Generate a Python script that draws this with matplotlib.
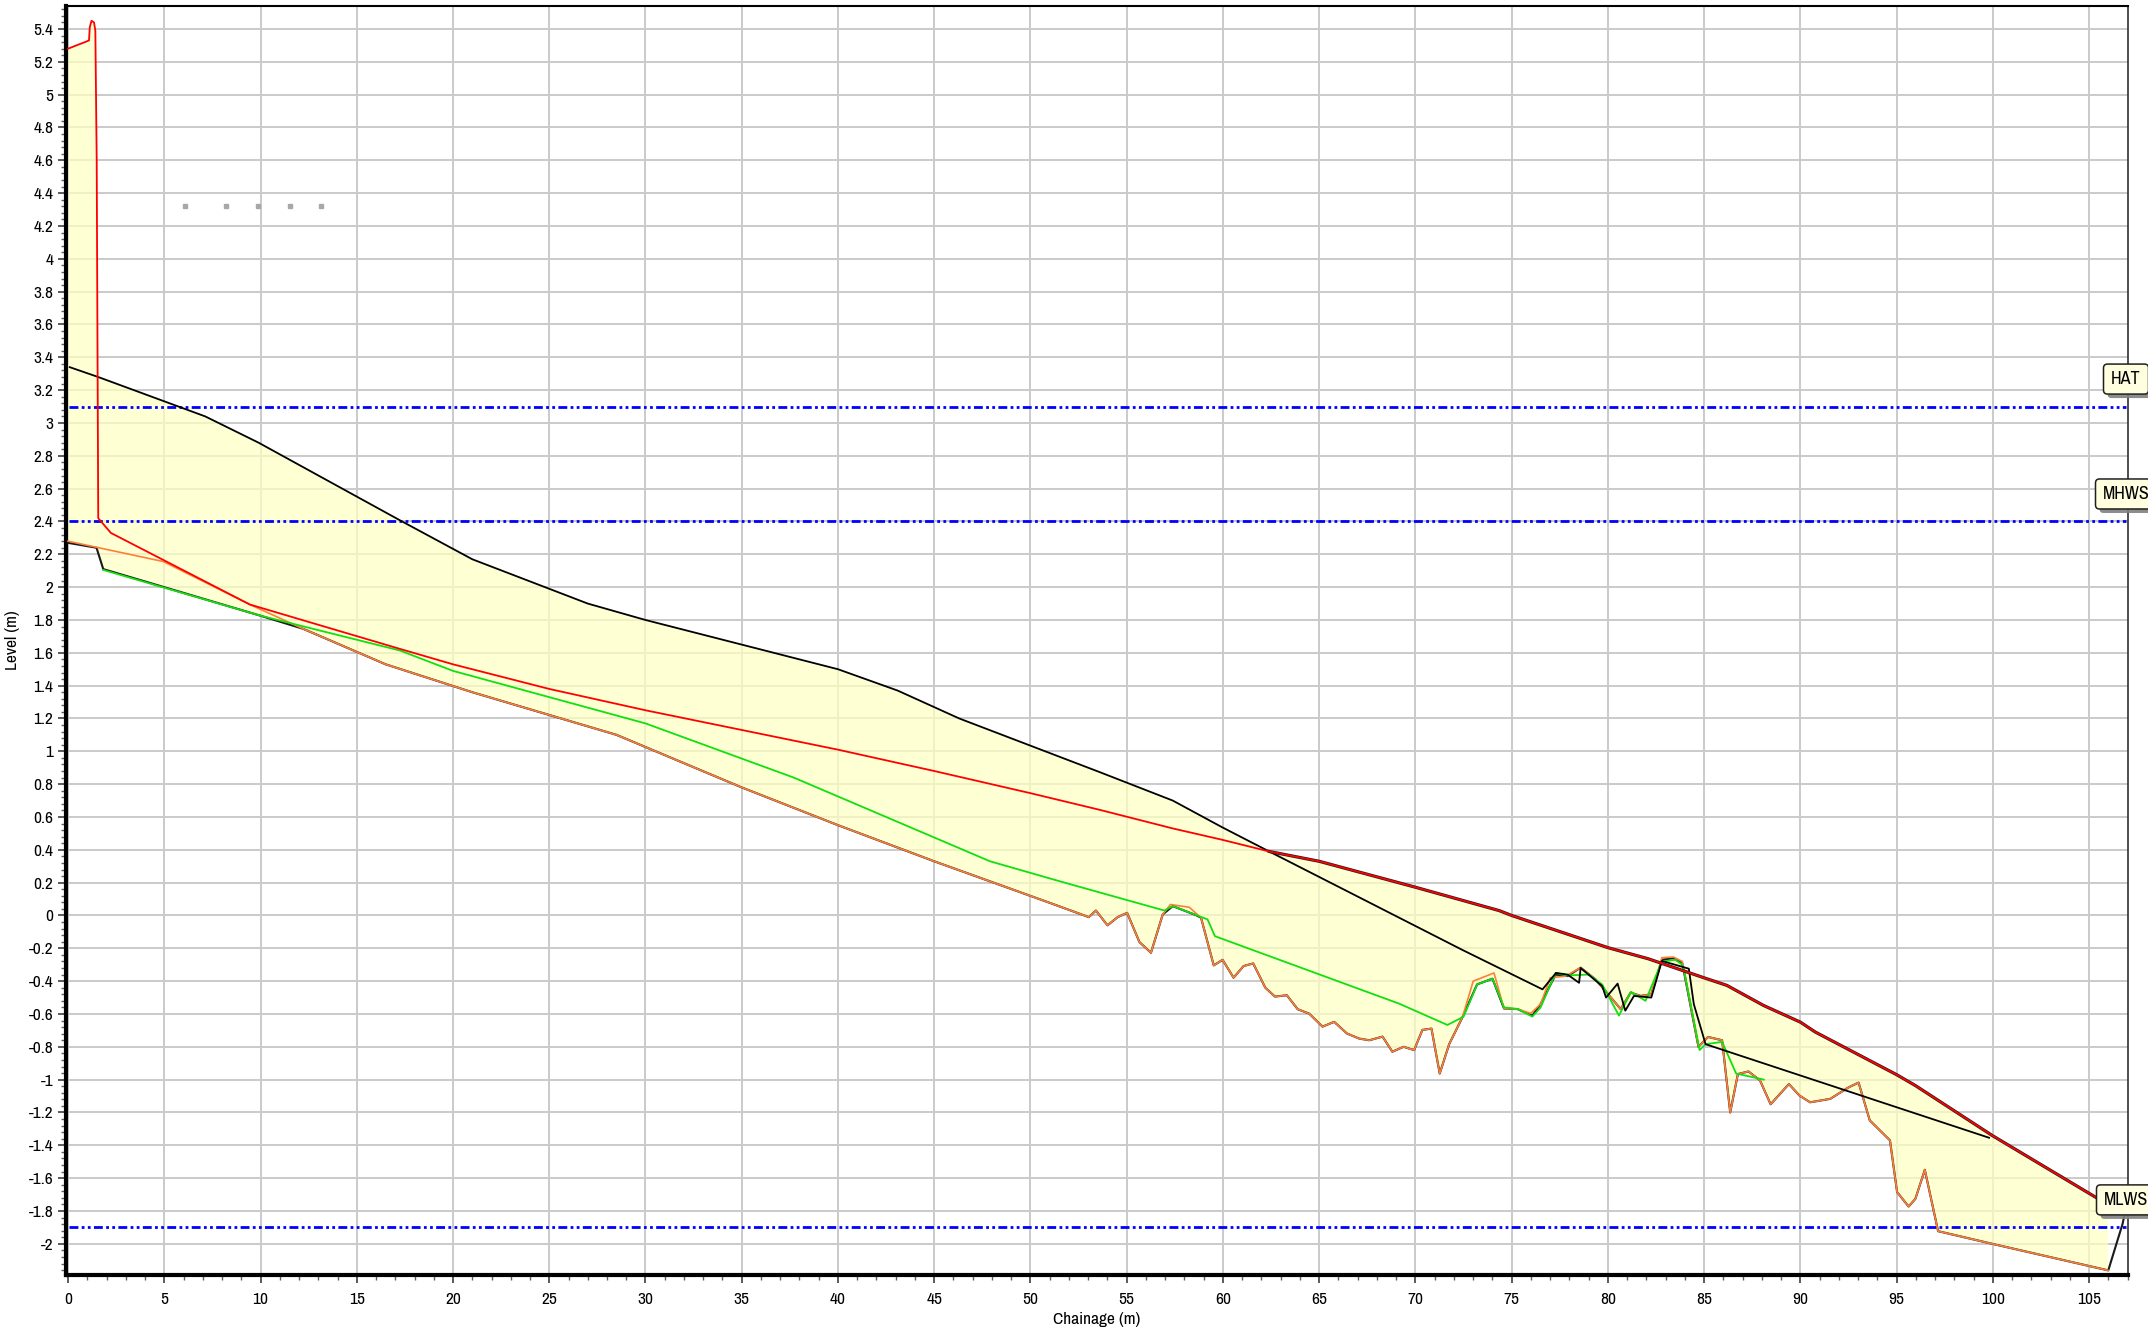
import numpy as np
import matplotlib
matplotlib.use('Agg')
import matplotlib.pyplot as plt
from matplotlib.ticker import MultipleLocator, FuncFormatter
from matplotlib.patches import FancyBboxPatch
from matplotlib.transforms import IdentityTransform

plt.rcParams['font.family'] = ['Archivo Narrow', 'Liberation Sans', 'DejaVu Sans']

# ---------------- data ----------------
red_x = [0.0, 1.09, 1.13, 1.22, 1.35, 1.42, 1.49, 1.57, 2.23, 9.45, 17.24, 20, 25, 30, 35, 40, 45, 50,
         53.58, 57.4, 60, 62.4, 65, 70, 74.34, 75, 80, 82.1, 85, 86.18, 88.08, 90, 90.77, 95, 95.97,
         99.96, 105.33, 106.7]
red_y = [5.28, 5.33, 5.41, 5.45, 5.44, 5.39, 4.6, 2.42, 2.33, 1.894, 1.624, 1.53, 1.38, 1.25, 1.13, 1.01,
         0.88, 0.745, 0.644, 0.53, 0.46, 0.39, 0.33, 0.172, 0.03, 0.0, -0.196, -0.264, -0.38, -0.426,
         -0.548, -0.65, -0.71, -0.97, -1.036, -1.34, -1.716, -1.80]

black_x = [0.09, 1.57, 7.13, 9.9, 17.2, 21, 27, 30, 40, 43.1, 46.3, 53.58, 57.39, 59.98, 62.4, 72.44,
           76.6, 77.3, 77.9, 78.5, 78.58, 79.7, 79.9, 80.5, 80.9, 81.35, 82.25, 82.8, 84.2, 84.46,
           85.07, 99.8]
black_y = [3.34, 3.28, 3.04, 2.88, 2.41, 2.17, 1.90, 1.80, 1.50, 1.37, 1.20, 0.874, 0.70, 0.536, 0.39,
           -0.21, -0.45, -0.35, -0.36, -0.41, -0.32, -0.43, -0.50, -0.415, -0.58, -0.49, -0.50, -0.277,
           -0.324, -0.54, -0.784, -1.354]

green_x = [1.83, 9.97, 17.24, 20, 25, 30, 37.7, 47.9, 51.5, 56.96, 57.39, 59.2, 59.58, 69.15, 71.66,
           72.5, 73.2, 74.0, 74.6, 75.3, 76.07, 76.5, 77.28, 77.9, 79.0, 79.7, 80.57, 81.2, 81.95,
           82.8, 83.5, 83.86, 84.0, 84.76, 85.07, 85.93, 86.66, 88.1]
green_y = [2.105, 1.827, 1.614, 1.49, 1.33, 1.17, 0.84, 0.33, 0.209, 0.03, 0.057, -0.024, -0.126,
           -0.537, -0.667, -0.616, -0.42, -0.385, -0.56, -0.57, -0.616, -0.56, -0.35, -0.365, -0.36,
           -0.42, -0.61, -0.465, -0.52, -0.28, -0.27, -0.30, -0.36, -0.82, -0.784, -0.77, -0.963, -1.0]

orange_x = [0.0, 4.95, 9.45, 12.22, 16.5, 21, 28.5, 35, 40, 45, 51, 53.03, 53.4, 54.0, 54.53, 55.02,
            55.66, 56.26, 56.87, 57.27, 58.25, 58.86, 59.52, 59.98, 60.55, 61.07, 61.57, 62.2, 62.7,
            63.32, 63.88, 64.48, 65.17, 65.78, 66.44, 67.08, 67.6, 68.29, 68.8, 69.38, 69.93, 70.36,
            70.83, 71.26, 71.75, 72.44, 73.0, 74.08, 74.6, 75.3, 75.99, 76.5, 77.0, 77.8, 78.58,
            79.36, 80.66, 81.18, 81.7, 82.25, 82.8, 83.4, 83.86, 84.7, 85.2, 85.93, 86.35, 86.75,
            87.3, 87.9, 88.45, 89.4, 89.95, 90.5, 91.55, 92.5, 93.02, 93.6, 94.65, 95.02, 95.62,
            95.97, 96.46, 97.15, 99.96, 105.99]
orange_y = [2.28, 2.156, 1.894, 1.746, 1.53, 1.36, 1.10, 0.78, 0.55, 0.33, 0.077, -0.01, 0.03, -0.06,
            -0.01, 0.016, -0.162, -0.227, 0.006, 0.067, 0.05, -0.014, -0.304, -0.27, -0.379, -0.308,
            -0.292, -0.44, -0.494, -0.486, -0.571, -0.598, -0.677, -0.648, -0.719, -0.75, -0.76,
            -0.738, -0.83, -0.80, -0.82, -0.697, -0.689, -0.963, -0.784, -0.62, -0.40, -0.35, -0.567,
            -0.57, -0.596, -0.54, -0.38, -0.369, -0.318, -0.39, -0.57, -0.47, -0.49, -0.48, -0.257,
            -0.253, -0.28, -0.80, -0.74, -0.76, -1.2, -0.966, -0.95, -1.005, -1.15, -1.027, -1.097,
            -1.138, -1.117, -1.047, -1.018, -1.248, -1.37, -1.685, -1.773, -1.726, -1.549, -1.923,
            -2.0, -2.162]

dark_x = [0.0, 1.48, 1.83, 9.97, 12.22, 16.5, 21, 28.5, 35, 40, 45, 51, 53.03, 53.4, 54.0, 54.53,
          55.02, 55.66, 56.26, 56.87, 57.39, 58.6, 58.86, 59.52, 59.98, 60.55, 61.07, 61.57, 62.2,
          62.7, 63.32, 63.88, 64.48, 65.17, 65.78, 66.44, 67.08, 67.6, 68.29, 68.8, 69.38, 69.93,
          70.36, 70.83, 71.26, 71.75, 72.44, 73.2, 74.0, 74.6, 75.3, 76.07, 76.5, 77.28, 77.9,
          78.58, 79.36, 80.66, 81.18, 81.7, 82.25, 82.8, 83.4, 83.86, 84.7, 85.2, 85.93, 86.35,
          86.75, 87.3, 87.9, 88.45, 89.4, 89.95, 90.5, 91.55, 92.5, 93.02, 93.6, 94.65, 95.02,
          95.62, 95.97, 96.46, 97.15, 99.96, 105.99, 106.73, 106.95]
dark_y = [2.27, 2.24, 2.11, 1.827, 1.746, 1.53, 1.36, 1.10, 0.78, 0.55, 0.33, 0.077, -0.01, 0.03,
          -0.06, -0.01, 0.016, -0.162, -0.227, 0.006, 0.057, 0.002, -0.014, -0.304, -0.27, -0.379,
          -0.308, -0.292, -0.44, -0.494, -0.486, -0.571, -0.598, -0.677, -0.648, -0.719, -0.75,
          -0.76, -0.738, -0.83, -0.80, -0.82, -0.697, -0.689, -0.963, -0.784, -0.62, -0.42, -0.385,
          -0.567, -0.57, -0.61, -0.54, -0.36, -0.369, -0.318, -0.39, -0.57, -0.47, -0.49, -0.48,
          -0.27, -0.26, -0.29, -0.80, -0.74, -0.76, -1.2, -0.966, -0.95, -1.005, -1.15, -1.027,
          -1.097, -1.138, -1.117, -1.047, -1.018, -1.248, -1.37, -1.685, -1.773, -1.726, -1.549,
          -1.923, -2.0, -2.162, -1.88, -1.76]

tide_names = ['HAT', 'MHWS', 'MLWS']
tide_levels = [3.1, 2.4, -1.9]

marker_x = [6.08, 8.21, 9.86, 11.51, 13.16]
marker_y = [4.32, 4.32, 4.32, 4.32, 4.32]

# label-box styling (pixels)
box_widths = [45, 61, 59]
box_height = 30
box_gap = 12.5
box_center_px = 2126

# ---------------- figure ----------------
fig = plt.figure(figsize=(21.48, 13.31), dpi=100)
ax = fig.add_axes([0.03059, 0.04207, 0.95996, 0.95342])
ax.set_xlim(-0.12, 107.0)
ax.set_ylim(-2.19, 5.54)

ax.set_axisbelow(True)
ax.grid(which='major', color='#CACACA', lw=1.4)

# fill between envelopes of all profiles
profiles = [(red_x, red_y), (black_x, black_y), (green_x, green_y), (orange_x, orange_y), (dark_x, dark_y)]
xg = np.linspace(0.0, orange_x[-1], 6000)
stack = np.array([np.interp(xg, px, py, left=np.nan, right=np.nan) for px, py in profiles])
upper = np.nanmax(stack, axis=0)
lower = np.nanmin(stack, axis=0)
ax.fill_between(xg, lower, upper, facecolor='#FFFFC4', edgecolor='none', alpha=0.72, zorder=1)

# tide lines
ax.hlines(tide_levels, 0.05, 106.9, colors='#0000FF', lw=2.0,
          linestyles=[(0, (3.2, 1.2, 1.0, 1.2, 1.0, 1.2))], zorder=2)

# profiles
ax.plot(dark_x, dark_y, color='#1a1a1a', lw=1.5, zorder=3)
ax.plot(orange_x, orange_y, color='#FF7F3A', lw=1.2, zorder=4)
ax.plot(green_x, green_y, color='#10E010', lw=1.3, zorder=5)
ax.plot(black_x, black_y, color='black', lw=1.3, zorder=6)
rx = np.array(red_x); ry = np.array(red_y)
m = rx >= 62.4
ax.plot(rx[m], ry[m], color='#202020', lw=2.3, zorder=7)
ax.plot(red_x, red_y, color='#FF0000', lw=1.3, zorder=8)

ax.plot(marker_x, marker_y, linestyle='none', marker='s', ms=2.5, color='#A8A8A8', zorder=3)

# axes styling
ax.xaxis.set_major_locator(MultipleLocator(5))
ax.xaxis.set_minor_locator(MultipleLocator(1))
ax.yaxis.set_major_locator(MultipleLocator(0.2))
ax.yaxis.set_minor_locator(MultipleLocator(0.04))

def fmt(v, pos):
    v = round(v, 2)
    if abs(v) < 1e-9:
        return '0'
    return f'{v:g}'

ax.xaxis.set_major_formatter(FuncFormatter(fmt))
ax.yaxis.set_major_formatter(FuncFormatter(fmt))
ax.tick_params(axis='both', which='major', labelsize=12.5, direction='out', length=6, width=1.2,
               color='#404040', pad=3)
ax.tick_params(axis='both', which='minor', direction='out', length=3.5, width=1.0, color='#606060')
ax.tick_params(axis='x', which='major', pad=6)

for s in ['left', 'bottom']:
    ax.spines[s].set_linewidth(3)
    ax.spines[s].set_color('black')
ax.spines['top'].set_linewidth(1.5)
ax.spines['right'].set_linewidth(1.2)
ax.spines['right'].set_color('#303030')

ax.set_xlabel('Chainage (m)', fontsize=12.5, labelpad=4)
ax.set_ylabel('Level (m)', fontsize=12.5, labelpad=6)

# tide label boxes (pixel positions tied to the data level of each line)
ident = IdentityTransform()
for name, lvl, bw in zip(tide_names, tide_levels, box_widths):
    y_line = ax.transData.transform((0, lvl))[1]
    y0 = y_line + box_gap
    x0 = box_center_px - bw / 2.0
    shadow = FancyBboxPatch((x0 + 4, y0 - 4), bw, box_height, boxstyle='round,pad=0,rounding_size=4',
                            transform=ident, facecolor='#808080', edgecolor='none', alpha=0.9, zorder=20)
    box = FancyBboxPatch((x0, y0), bw, box_height, boxstyle='round,pad=0,rounding_size=4',
                         transform=ident, facecolor='#FFFFE0', edgecolor='#202020', lw=1.1, zorder=21)
    fig.add_artist(shadow)
    fig.add_artist(box)
    fig.text(box_center_px, y0 + box_height / 2.0, name, transform=ident, ha='center', va='center',
             fontsize=13, color='black', zorder=22)

fig.savefig('out.png', dpi=100)
